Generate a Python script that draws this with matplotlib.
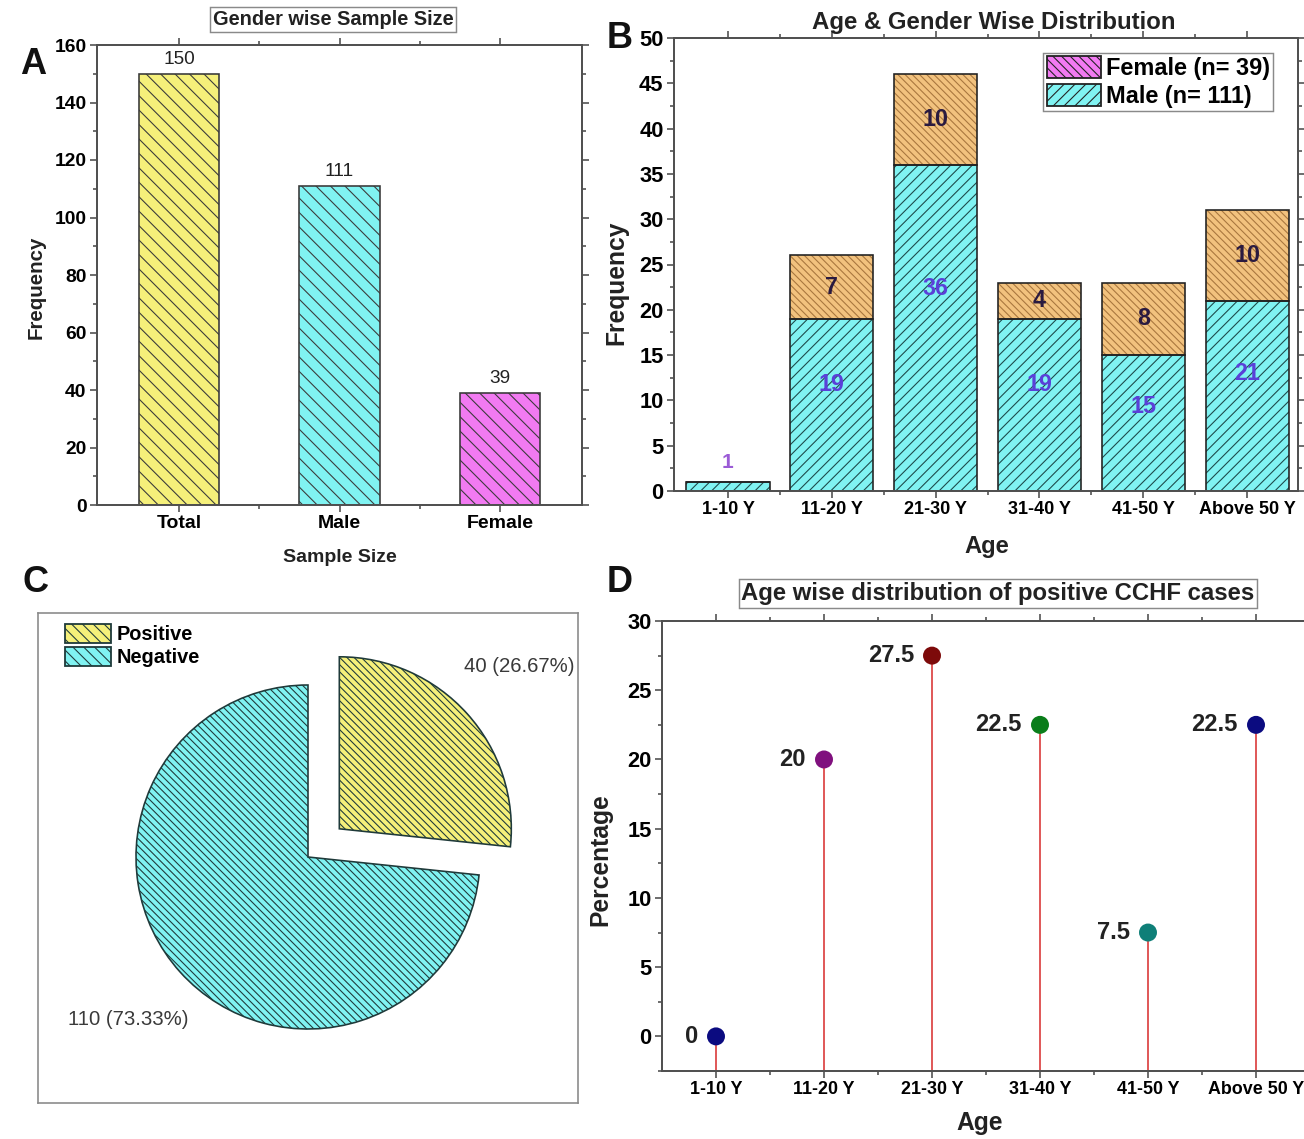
import matplotlib
matplotlib.use("Agg")
import matplotlib.pyplot as plt
import matplotlib.patches as mpatches
from matplotlib.ticker import MultipleLocator
import numpy as np

plt.rcParams["font.family"] = ["Liberation Sans", "DejaVu Sans"]
plt.rcParams["hatch.linewidth"] = 0.6

W, H, DPI = 1304, 1139, 130

# --- data ---
gender_cats = ["Total", "Male", "Female"]
gender_counts = [150, 111, 39]

age_groups = ["1-10 Y", "11-20 Y", "21-30 Y", "31-40 Y", "41-50 Y", "Above 50 Y"]
male_by_age = [1, 19, 36, 19, 15, 21]
female_by_age = [0, 7, 10, 4, 8, 10]

test_labels = ["Positive", "Negative"]
test_counts = [40, 110]

positive_pct = [0, 20, 27.5, 22.5, 7.5, 22.5]

# --- style ---
YELLOW = "#f5f07a"
CYAN = "#80f3f2"
MAGENTA = "#f27af2"
TAN = "#f2c27e"
SPINE = "#505050"
dot_colors = ["#0b0b80", "#80107e", "#7d0a0a", "#0a7d1a", "#0f7f78", "#0b0b80"]


def pt(px):
    # pixel size at DPI -> points
    return px * 72 / DPI * 0.95


def box(l, t, r, b):
    return [l / W, 1 - b / H, (r - l) / W, (b - t) / H]


def style_axes(ax):
    for s in ax.spines.values():
        s.set_color(SPINE)
        s.set_linewidth(1.1)
    ax.tick_params(which="both", direction="out", top=True, right=True,
                   labeltop=False, labelright=False, color=SPINE, width=0.9,
                   pad=2)
    ax.tick_params(which="major", length=3.8)
    ax.tick_params(which="minor", length=2)


def bold(ax):
    for lab in ax.get_xticklabels() + ax.get_yticklabels():
        lab.set_fontweight("bold")


fig = plt.figure(figsize=(W / DPI, H / DPI), dpi=DPI)

# ---------------- A ----------------
axA = fig.add_axes(box(97, 45, 582, 505))
xa = np.arange(1, len(gender_cats) + 1)
barsA = axA.bar(xa, gender_counts, width=0.5, color=[YELLOW, CYAN, MAGENTA],
                edgecolor="#3a3a3a", linewidth=0.9, hatch="\\" * 3)
axA.bar_label(barsA, padding=3, fontsize=pt(20), color="#222")
axA.set_xlim(0.49, 3.51)
axA.set_ylim(0, 160)
axA.yaxis.set_major_locator(MultipleLocator(20))
axA.yaxis.set_minor_locator(MultipleLocator(10))
axA.set_xticks(xa, gender_cats)
axA.set_xticks(xa[:-1] + 0.5, minor=True)
style_axes(axA)
axA.tick_params(axis="y", labelsize=pt(20.3))
axA.tick_params(axis="x", labelsize=pt(20.5))
bold(axA)
axA.set_xlabel("Sample Size", fontsize=pt(20.5), fontweight="bold", color="#222")
axA.set_ylabel("Frequency", fontsize=pt(21.6), fontweight="bold", color="#222")
axA.xaxis.set_label_coords(0.501, -0.1135)
axA.yaxis.set_label_coords(-0.125, 0.474)
axA.xaxis.label.set_va("center")
axA.yaxis.label.set_va("center")
fig.text(333 / W, 1 - 19.5 / H, "Gender wise Sample Size", ha="center", va="center",
         fontsize=pt(21), fontweight="bold", color="#222",
         bbox=dict(boxstyle="square,pad=0.15", fc="white", ec="#8a8a8a", lw=0.8))

# ---------------- B ----------------
axB = fig.add_axes(box(674, 38, 1298, 491))
xb = np.arange(1, len(age_groups) + 1)
axB.bar(xb, male_by_age, width=0.8, color=CYAN, edgecolor="#1d4a4a",
        linewidth=0, hatch="/" * 4)
axB.bar(xb, female_by_age, width=0.8, bottom=male_by_age, color=TAN,
        edgecolor="#a8763e", linewidth=0, hatch="\\" * 6)
# outlines
axB.bar(xb, male_by_age, width=0.8, fill=False, edgecolor="#222", linewidth=0.9)
axB.bar(xb, female_by_age, width=0.8, bottom=male_by_age, fill=False,
        edgecolor="#222", linewidth=0.9)
for xi, m, f in zip(xb, male_by_age, female_by_age):
    if m < 3:
        axB.text(xi, m + 2.1, str(m), ha="center", va="center",
                 fontsize=pt(22), fontweight="bold", color="#9b5bd6")
    else:
        axB.text(xi, m * 0.62, str(m), ha="center", va="center",
                 fontsize=pt(24.5), fontweight="bold", color="#5a40d8")
    if f > 0:
        axB.text(xi, m + f / 2, str(f), ha="center", va="center",
                 fontsize=pt(24.5), fontweight="bold", color="#2a1a40")
axB.set_xlim(0.48, 6.49)
axB.set_ylim(0, 50)
axB.yaxis.set_major_locator(MultipleLocator(5))
axB.yaxis.set_minor_locator(MultipleLocator(2.5))
axB.set_xticks(xb, age_groups)
axB.set_xticks(xb[:-1] + 0.5, minor=True)
style_axes(axB)
axB.tick_params(axis="y", labelsize=pt(23))
axB.tick_params(axis="x", labelsize=pt(19))
bold(axB)
axB.set_xlabel("Age", fontsize=pt(25), fontweight="bold", color="#222")
axB.set_ylabel("Frequency", fontsize=pt(26), fontweight="bold", color="#222")
axB.xaxis.set_label_coords(0.502, -0.1236)
axB.yaxis.set_label_coords(-0.0928, 0.459)
axB.xaxis.label.set_va("center")
axB.yaxis.label.set_va("center")
legB = [
    mpatches.Patch(facecolor=MAGENTA, edgecolor="#222", hatch="\\" * 5,
                   label=f"Female (n= {sum(female_by_age)})"),
    mpatches.Patch(facecolor=CYAN, edgecolor="#222", hatch="/" * 4,
                   label=f"Male (n= {sum(male_by_age)})"),
]
lg = axB.legend(handles=legB, loc="upper right", bbox_to_anchor=(0.96, 0.967),
                prop=dict(size=pt(24.8), weight="bold"), fancybox=False,
                edgecolor="#8a8a8a", framealpha=1, handlelength=2.3,
                handleheight=1.05, handletextpad=0.2, borderpad=0.15,
                labelspacing=0.15, borderaxespad=0)
lg.get_frame().set_linewidth(0.8)
fig.text(994 / W, 1 - 22 / H, "Age & Gender Wise Distribution", ha="center",
         va="center", fontsize=pt(25.3), fontweight="bold", color="#222")

# ---------------- C ----------------
axC = fig.add_axes(box(38, 613, 578, 1103))
total = sum(test_counts)
pie_labels = [f"{c} ({100 * c / total:.2f}%)" for c in test_counts]
wedges, texts = axC.pie(test_counts, explode=[0.245, 0], startangle=90,
                        counterclock=False, colors=[YELLOW, CYAN],
                        labels=pie_labels, labeldistance=1.41,
                        wedgeprops=dict(edgecolor="#1f3a3a", linewidth=0.9,
                                        hatch="\\" * 6),
                        textprops=dict(fontsize=pt(21.4), color="#3a3a3a"))
for t in texts:
    t.set_ha("center")
    t.set_va("center")
axC.set_aspect("auto")
axC.set_xlim(-270 / 172, 270 / 172)
axC.set_ylim(-246 / 172, 244 / 172)
axC.set_frame_on(True)
for s in axC.spines.values():
    s.set_color("#8a8a8a")
    s.set_linewidth(0.9)
axC.set_xticks([])
axC.set_yticks([])
legC_handles = [mpatches.Patch(facecolor=w.get_facecolor(), edgecolor="#1f3a3a",
                               hatch="\\" * 4) for w in wedges]
axC.legend(legC_handles, test_labels, loc="upper left",
           bbox_to_anchor=(27 / 540, 1 - 11 / 490), frameon=False,
           prop=dict(size=pt(21), weight="bold"), handlelength=2.3,
           handleheight=1.1, handletextpad=0.3, labelspacing=0.12,
           borderpad=0, borderaxespad=0)

# ---------------- D ----------------
axD = fig.add_axes(box(662, 621, 1310, 1071))
xd = np.arange(1, len(age_groups) + 1)
d_floor = -2.5
axD.set_xlim(0.5, 6.5)
axD.set_ylim(d_floor, 30)
axD.vlines(xd, d_floor, positive_pct, color="#e05a5a", linewidth=1.1, zorder=2)
axD.scatter(xd, positive_pct, s=80, c=dot_colors, zorder=3)
for xi, v in zip(xd, positive_pct):
    axD.annotate(f"{v:g}", (xi, v), xytext=(-10, 0), textcoords="offset points",
                 ha="right", va="center", fontsize=pt(25), fontweight="bold",
                 color="#222")
axD.yaxis.set_major_locator(MultipleLocator(5))
axD.yaxis.set_minor_locator(MultipleLocator(2.5))
axD.set_xticks(xd, age_groups)
axD.set_xticks(xd[:-1] + 0.5, minor=True)
style_axes(axD)
axD.tick_params(axis="y", labelsize=pt(23))
axD.tick_params(axis="x", labelsize=pt(18.8))
bold(axD)
axD.set_xlabel("Age", fontsize=pt(26), fontweight="bold", color="#222")
axD.set_ylabel("Percentage", fontsize=pt(26), fontweight="bold", color="#222")
axD.xaxis.set_label_coords(0.49, -0.1156)
axD.yaxis.set_label_coords(-0.0957, 0.469)
axD.xaxis.label.set_va("center")
axD.yaxis.label.set_va("center")
fig.text(998 / W, 1 - 593.5 / H, "Age wise distribution of positive CCHF cases",
         ha="center", va="center", fontsize=pt(25.1), fontweight="bold", color="#222",
         bbox=dict(boxstyle="square,pad=0.12", fc="white", ec="#8a8a8a", lw=0.8))

# panel letters
for letter, (lx, ly) in zip("ABCD", [(33, 65), (620, 38), (35, 582), (620, 583)]):
    fig.text(lx / W, 1 - ly / H, letter, ha="center", va="center",
             fontsize=pt(38), fontweight="bold", color="#111")

fig.savefig("out.png", dpi=DPI)
